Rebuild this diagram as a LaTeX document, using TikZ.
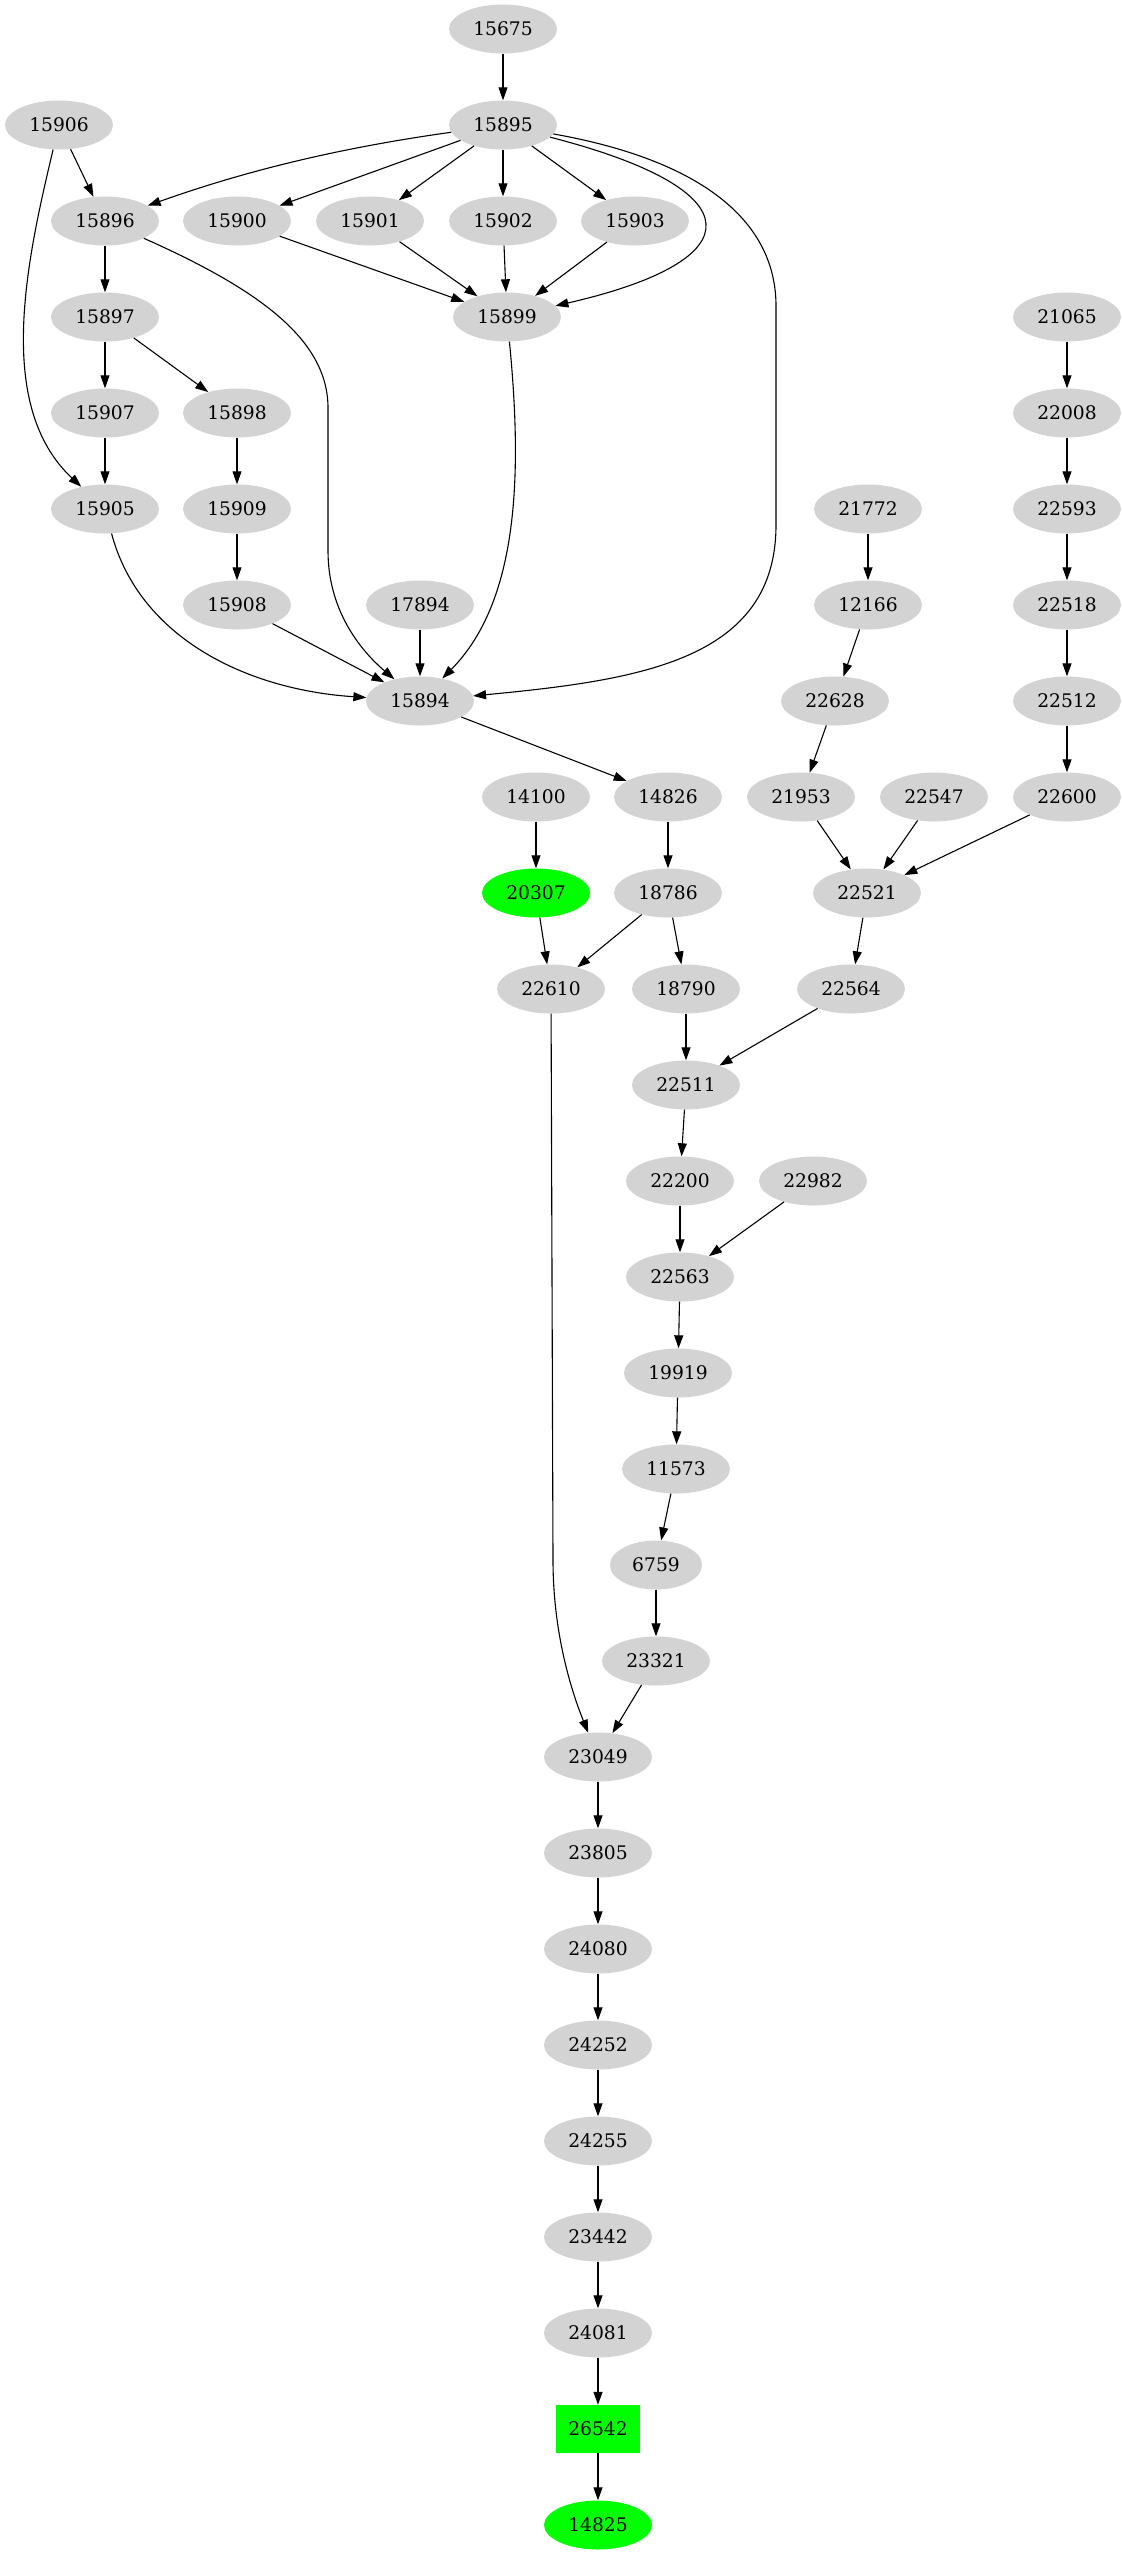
\documentclass[tikz,border=0pt]{standalone}
\usepackage{fontspec}
\setmainfont{DejaVu Serif}
\usetikzlibrary{arrows.meta,shapes.geometric}
\tikzset{>={Triangle[length=13pt,width=9pt]}}
\definecolor{nodegray}{RGB}{211,211,211}
\definecolor{nodegreen}{RGB}{0,255,0}
\tikzset{
  gnode/.style={ellipse,fill=nodegray,minimum width=108pt,minimum height=49pt,inner sep=0pt,font=\fontsize{18.7}{22}\selectfont},
  hnode/.style={gnode,fill=nodegreen},
  hbox/.style={rectangle,fill=nodegreen,minimum width=84pt,minimum height=48pt,inner sep=0pt,font=\fontsize{18.7}{22}\selectfont},
  conn/.style={->,line width=1.1pt}
}

\begin{document}
\begin{tikzpicture}[x=1pt,y=-1pt]
    \useasboundingbox (0,0) rectangle (1121,2555);
    \foreach \name/\x/\r in {15675/503/0,15906/59/1,15895/503/1,
        15896/105/2,15900/237/2,15901/370/2,15902/503/2,15903/635/2,
        15897/105/3,15899/507/3,21065/1067/3,
        15907/105/4,15898/237/4,22008/1067/4,
        15905/105/5,15909/237/5,21772/868/5,22593/1067/5,
        15908/237/6,17894/420/6,12166/868/6,22518/1067/6,
        15894/420/7,22628/835/7,22512/1067/7,
        14100/536/8,14826/668/8,21953/801/8,22547/934/8,22600/1067/8,
        18786/668/9,22521/867/9,
        22610/551/10,18790/686/10,22564/851/10,
        22511/686/11,22200/680/12,22982/813/12,22563/680/13,
        19919/678/14,11573/676/15,23321/656/17} {
        \node[gnode] (n\name) at (\x,{29+96*\r}) {\name};
      }
    \foreach \name [count=\r from 18] in {23049,23805,24080,24252,24255,23442,24081} {
        \node[gnode] (n\name) at (598,{29+96*\r}) {\name};
      }
    \node[hnode] (n20307) at (536,893) {20307};
    \node[gnode,minimum width=92pt] (n6759) at (656,1565) {6759};
    \node[hbox] (n26542) at (598,2429) {26542};
    \node[hnode] (n14825) at (598,2525) {14825};

    \foreach \a/\b in {15675/15895,15906/15896,15895/15900,15895/15901,15895/15902,15895/15903,
        15900/15899,15901/15899,15902/15899,15903/15899,15896/15897,15897/15907,15897/15898,
        15907/15905,15898/15909,15909/15908,15908/15894,17894/15894,
        21065/22008,22008/22593,22593/22518,22518/22512,22512/22600,
        21772/12166,12166/22628,22628/21953,15894/14826,14100/20307,14826/18786,
        21953/22521,22547/22521,22600/22521,20307/22610,18786/22610,18786/18790,
        22521/22564,18790/22511,22564/22511,22511/22200,22200/22563,22982/22563,
        22563/19919,19919/11573,11573/6759,6759/23321,23321/23049,
        23049/23805,23805/24080,24080/24252,24252/24255,24255/23442,23442/24081,
        24081/26542,26542/14825} {
        \draw[conn] (n\a) -- (n\b);
      }
    \draw[conn] (n15906) .. controls (26,263) and (-5,406) .. (n15905);
    \draw[conn] (n15895) .. controls (353,146) and (256,167) .. (n15896);
    \draw[conn] (n15895) .. controls (755,190) and (755,260) .. (n15899);
    \draw[conn] (n15895) .. controls (700,160) and (776,220) .. (776,306) -- (776,525)
      .. controls (776,660) and (640,680) .. (n15894);
    \draw[conn] (n15896) .. controls (260,290) and (328,340) .. (328,408) -- (328,551)
      .. controls (328,610) and (360,650) .. (n15894);
    \draw[conn] (n15899) .. controls (522,470) and (520,600) .. (n15894);
    \draw[conn] (n15905) .. controls (140,640) and (250,690) .. (n15894);
    \draw[conn] (n22610) -- (553,1560) .. controls (553,1640) and (575,1700) .. (n23049);
  \end{tikzpicture}
\end{document}
